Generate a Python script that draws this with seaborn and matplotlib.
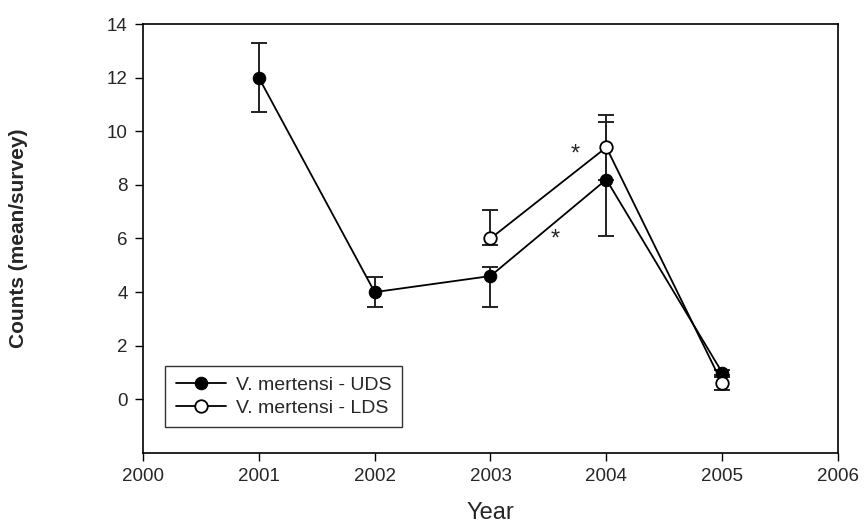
import pandas as pd
import matplotlib
matplotlib.use("Agg")
import matplotlib.pyplot as plt
import seaborn as sns

# values
uds_year = [2001, 2002, 2003, 2004, 2005]
uds_mean = [12.0, 4.0, 4.6, 8.2, 1.0]
uds_low = [10.7, 3.45, 3.45, 6.1, 0.9]
uds_high = [13.3, 4.55, 4.95, 10.35, 1.1]

lds_year = [2003, 2004, 2005]
lds_mean = [6.0, 9.4, 0.6]
lds_low = [5.75, 8.2, 0.35]
lds_high = [7.05, 10.6, 0.85]

star_x = [2003.73, 2003.56]
star_y = [9.15, 5.95]

sns.set_style("white")
plt.rcParams["font.family"] = ["Liberation Sans", "DejaVu Sans"]

uds = pd.DataFrame({"Year": uds_year, "Counts": uds_mean, "lo": uds_low, "hi": uds_high})
lds = pd.DataFrame({"Year": lds_year, "Counts": lds_mean, "lo": lds_low, "hi": lds_high})

fig = plt.figure(figsize=(8.65, 5.29), dpi=100)
ax = fig.add_axes([0.1653, 0.1437, 0.8035, 0.8109])

for d in (uds, lds):
    ax.errorbar(d["Year"], d["Counts"],
                yerr=[d["Counts"] - d["lo"], d["hi"] - d["Counts"]],
                fmt="none", ecolor="#222222", elinewidth=1.4, capsize=6, capthick=1.4, zorder=2)

sns.lineplot(data=uds, x="Year", y="Counts", color="black", marker="o", markersize=9,
             markerfacecolor="black", markeredgecolor="black", linewidth=1.3,
             label="V. mertensi - UDS", ax=ax, zorder=3)
sns.lineplot(data=lds, x="Year", y="Counts", color="black", marker="o", markersize=9,
             markerfacecolor="white", markeredgecolor="black", markeredgewidth=1.3,
             linewidth=1.3, label="V. mertensi - LDS", ax=ax, zorder=4)

for sx, sy in zip(star_x, star_y):
    ax.text(sx, sy, "*", fontsize=17, ha="center", va="center")

ax.set_xlim(2000, 2006)
ax.set_ylim(-2, 14)
ax.set_xticks(range(2000, 2007))
ax.set_yticks(range(0, 15, 2))
ax.tick_params(axis="both", direction="out", length=6, width=1, labelsize=13.5, color="black",
               bottom=True, left=True, pad=5)
for s in ax.spines.values():
    s.set_color("black")
    s.set_linewidth(1.2)

ax.set_xlabel("Year", fontsize=17)
ax.set_ylabel("Counts (mean/survey)", fontsize=15, fontweight="bold")
ax.xaxis.set_label_coords(0.5, -0.115)
ax.yaxis.set_label_coords(-0.166, 0.5)

leg = ax.legend(loc="lower left", bbox_to_anchor=(0.032, 0.06), fontsize=14,
                frameon=True, fancybox=False, edgecolor="black", handlelength=2.6,
                borderpad=0.55, labelspacing=0.25, handletextpad=0.5, borderaxespad=0)
leg.get_frame().set_linewidth(1.0)

fig.savefig("out.png", dpi=100)
